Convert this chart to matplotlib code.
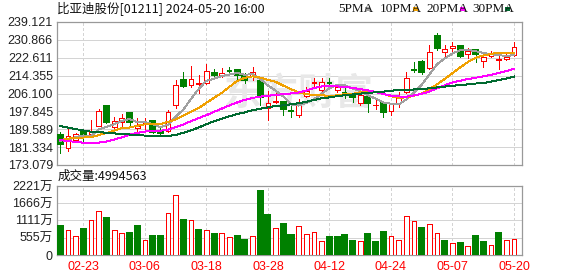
import numpy as np
import matplotlib as mpl
mpl.use('Agg')
mpl.rcParams.update({'font.family': ['Liberation Sans', 'Noto Sans CJK SC'], 'font.size': 9})
from matplotlib import pyplot as plt
from matplotlib.patches import Rectangle

# trading days shown (MM-DD)
dates = ['02-20', '02-21', '02-22', '02-23', '02-26', '02-27', '02-28', '02-29',
         '03-01', '03-04', '03-05', '03-06', '03-07', '03-08', '03-11', '03-12',
         '03-13', '03-14', '03-15', '03-18', '03-19', '03-20', '03-21', '03-22',
         '03-25', '03-26', '03-27', '03-28', '04-02', '04-03', '04-05', '04-08',
         '04-09', '04-10', '04-11', '04-12', '04-15', '04-16', '04-17', '04-18',
         '04-19', '04-22', '04-23', '04-24', '04-25', '04-26', '04-29', '04-30',
         '05-02', '05-03', '05-06', '05-07', '05-08', '05-09', '05-10', '05-13',
         '05-14', '05-16', '05-17', '05-20']

opens = [186.93, 181.07, 184.76, 188.32, 187.60, 191.23, 200.19, 190.77, 192.94, 197.09,
         190.03, 192.01, 193.40, 188.46, 188.92, 200.79, 212.33, 209.89, 210.63, 210.81,
         215.71, 214.78, 216.63, 216.95, 214.18, 214.18, 211.87, 199.63, 202.17, 202.03,
         198.16, 196.40, 205.08, 210.81, 207.72, 211.09, 207.72, 206.48, 205.87, 201.57,
         204.62, 200.65, 201.85, 198.16, 201.57, 206.65, 217.09, 220.51, 217.74, 232.65,
         225.40, 226.97, 228.04, 224.20, 226.19, 221.25, 223.42, 221.80, 221.89, 223.74]
highs = [188.18, 189.70, 188.00, 188.78, 193.86, 199.08, 200.65, 195.25, 196.49, 197.42,
         194.65, 194.65, 193.86, 190.03, 198.48, 212.33, 215.89, 218.80, 214.64, 219.72,
         217.55, 217.88, 218.48, 217.28, 215.43, 218.48, 212.33, 207.25, 207.02, 202.31,
         200.33, 203.56, 209.24, 213.40, 213.40, 213.26, 210.35, 209.10, 206.19, 207.72,
         204.94, 203.10, 202.31, 201.85, 206.93, 216.17, 220.78, 221.57, 228.50, 233.90,
         228.50, 230.02, 228.50, 226.97, 226.51, 224.66, 225.87, 223.42, 225.40, 230.11]
lows = [178.76, 179.54, 184.30, 183.24, 186.47, 191.09, 192.34, 188.92, 190.77, 190.77,
        186.93, 189.24, 188.00, 186.47, 188.46, 199.26, 209.24, 209.24, 206.19, 210.49,
        213.58, 213.58, 214.50, 212.66, 210.81, 212.33, 200.79, 193.86, 201.57, 196.17,
        195.38, 195.38, 204.34, 209.24, 206.19, 208.50, 206.93, 204.02, 202.31, 200.79,
        197.69, 198.80, 195.38, 196.17, 200.00, 206.19, 216.17, 215.10, 217.28, 226.19,
        222.36, 224.66, 223.09, 222.36, 220.78, 218.48, 223.09, 217.41, 221.57, 223.42]
closes = [182.64, 186.47, 187.39, 187.16, 188.46, 198.02, 192.80, 193.26, 194.65, 192.80,
          191.09, 192.94, 188.46, 187.72, 197.69, 210.02, 209.70, 212.66, 211.09, 216.63,
          214.50, 215.71, 216.35, 214.78, 212.33, 216.17, 204.34, 201.57, 202.73, 198.85,
          197.88, 201.71, 207.39, 211.41, 211.64, 210.72, 209.24, 206.19, 204.34, 205.41,
          201.57, 200.93, 197.69, 201.11, 203.88, 213.12, 216.81, 215.89, 225.13, 227.25,
          226.51, 228.04, 223.56, 225.87, 224.20, 222.82, 224.66, 222.03, 222.82, 227.44]
# volume in 万 shares
volumes = [933, 794, 601, 837, 1116, 1406, 1191, 794, 697, 708,
           933, 472, 601, 601, 1341, 1921, 1127, 1116, 805, 794,
           676, 697, 569, 601, 483, 601, 2060, 1288, 858, 998,
           644, 933, 676, 740, 451, 579, 579, 644, 451, 451,
           676, 418, 740, 612, 483, 1255, 1094, 869, 998, 708,
           451, 386, 386, 290, 612, 418, 322, 708, 483, 499.4563]
# closes of the sessions before 02-20 (estimated), needed for the moving averages
earlier_closes = [210, 207, 205, 206, 203, 204, 201, 203, 200, 202,
                  196, 194, 195, 192, 194, 182, 177, 172, 170, 174,
                  180, 183, 186, 187, 188, 184, 182, 183, 190]

ma_periods = [5, 10, 20, 30]
ma_colors = ['#a0a0a0', '#f0a000', '#ff00ff', '#006a30']
price_ticks = ['173.079', '181.334', '189.589', '197.845', '206.100',
               '214.355', '222.611', '230.866', '239.121']
vol_ticks = [0, 555, 1111, 1666, 2221]
vol_labels = ['0', '555万', '1111万', '1666万', '2221万']

RED = '#ff0000'
GREEN = '#008000'
GRID = '#d4d4d4'
FRAME = '#999999'

o = np.array(opens); h = np.array(highs); l = np.array(lows); c = np.array(closes)
n = len(c)
x = np.arange(n)
up = c >= o
prev = np.concatenate([[earlier_closes[-1]], c[:-1]])
vol_up = c >= prev

allc = np.concatenate([earlier_closes, closes])

W, H = 578, 276
fig = plt.figure(figsize=(W / 100, H / 100), dpi=100)
axp = fig.add_axes([57 / W, 1 - 165 / H, 465 / W, 143 / H])
axv = fig.add_axes([57 / W, 1 - 255 / H, 465 / W, 69 / H])

label_idx = list(range(3, n, 8))

for ax in (axp, axv):
    ax.set_xlim(-0.43, 60.04)
    for s in ax.spines.values():
        s.set_color(FRAME)
        s.set_linewidth(0.9)
    for i in label_idx:
        ax.axvline(i, color=GRID, lw=0.7, ls=(0, (3, 3)), zorder=0, antialiased=False)
    ax.tick_params(length=0, pad=3, colors='#222222', labelsize=9)

# price panel
pmin, pmax = float(price_ticks[0]), float(price_ticks[-1])
axp.set_ylim(pmin, pmax)
axp.set_yticks([float(t) for t in price_ticks])
axp.set_yticklabels(price_ticks)
axp.set_xticks([])
for t in price_ticks:
    axp.axhline(float(t), color=GRID, lw=0.7, zorder=0, antialiased=False)

axp.text(0.52, 0.5, '东方财富', transform=axp.transAxes, ha='center', va='center',
         fontsize=27, color='#e8e8e8', family='Noto Sans CJK SC', fontweight='bold', zorder=0)

col = np.where(up, RED, GREEN)
axp.vlines(x, l, h, colors=col, lw=0.7, zorder=2, antialiased=False)
body_lo = np.minimum(o, c)
body_h = np.maximum(np.abs(c - o), 0.05)
axp.bar(x[up], body_h[up], bottom=body_lo[up], width=0.62, facecolor='white',
        edgecolor=RED, lw=0.7, zorder=3, antialiased=False)
axp.bar(x[~up], body_h[~up], bottom=body_lo[~up], width=0.66, facecolor=GREEN,
        edgecolor=GREEN, lw=0.3, zorder=3, antialiased=False)

for p, cc in zip(ma_periods, ma_colors):
    ma = np.convolve(allc, np.ones(p) / p, mode='valid')[-n:]
    axp.plot(x, ma, color=cc, lw=0.7, zorder=4, antialiased=False)

# volume panel
v = np.array(volumes)
axv.set_ylim(0, vol_ticks[-1])
axv.set_yticks(vol_ticks)
axv.set_yticklabels(vol_labels)
for t in vol_ticks[1:]:
    axv.axhline(t, color=GRID, lw=0.7, zorder=0, antialiased=False)
axv.bar(x[vol_up], v[vol_up], width=0.62, facecolor='white', edgecolor=RED,
        lw=0.7, zorder=3, antialiased=False)
axv.bar(x[~vol_up], v[~vol_up], width=0.66, facecolor=GREEN, edgecolor=GREEN,
        lw=0.3, zorder=3, antialiased=False)
axv.set_xticks(label_idx)
axv.set_xticklabels([dates[i] for i in label_idx], color=RED)
axv.tick_params(axis='x', pad=4)

# header texts
fig.text(57 / W, 1 - 9 / H, '比亚迪股份[01211] 2024-05-20 16:00', ha='left', va='center',
         fontsize=9, family=['Noto Sans CJK SC'], color='#111111')
legend_x = [338, 380, 426, 472]
square_x = [365, 413, 460, 505]
for p, cc, tx, sx in zip(ma_periods, ma_colors, legend_x, square_x):
    fig.text(tx / W, 1 - 9 / H, '%dPMA' % p, ha='left', va='center', fontsize=9.5,
             family='Liberation Serif', color='#111111')
    fig.patches.append(Rectangle((sx / W, 1 - 11 / H), 5 / W, 4 / H, transform=fig.transFigure,
                                 facecolor=cc, edgecolor='none'))
fig.text(58 / W, 1 - 176 / H, '成交量:%d' % round(volumes[-1] * 10000), ha='left', va='center',
         fontsize=9, family=['Noto Sans CJK SC'], color='#111111')

fig.savefig('out.png', dpi=100)
